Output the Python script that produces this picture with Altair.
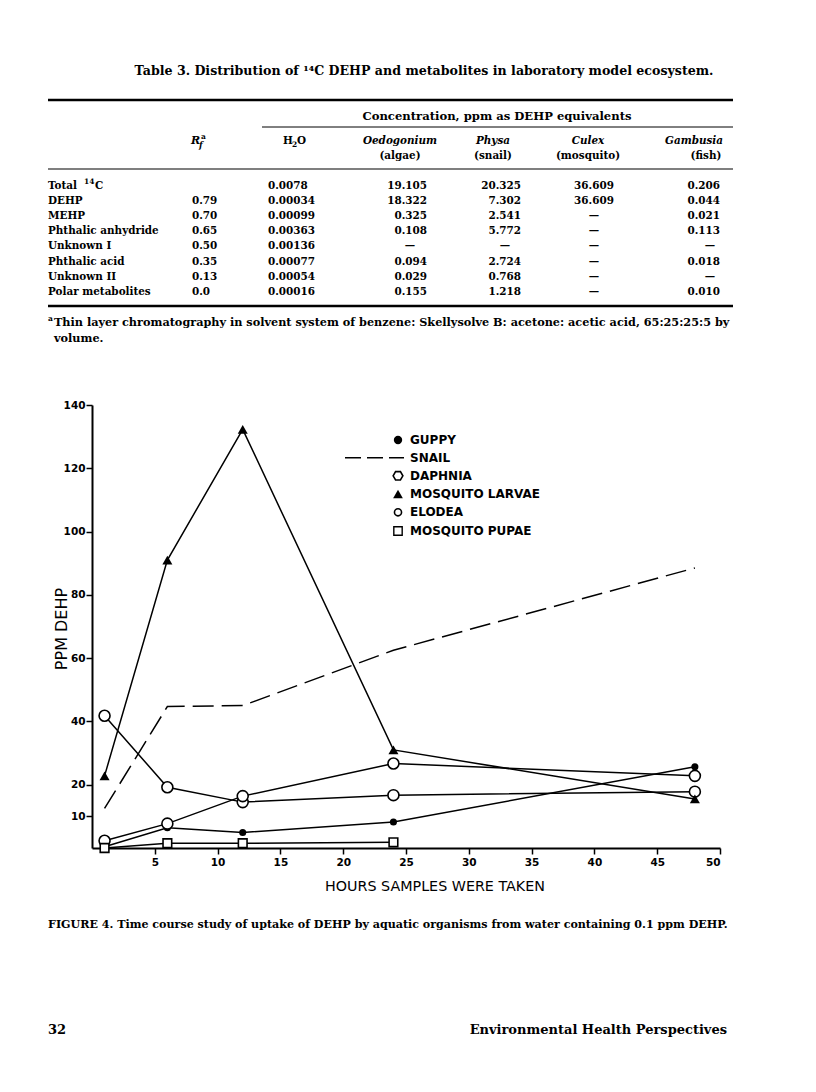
import altair as alt
import pandas as pd

# ---------------- data ----------------
hours = [1, 6, 12, 24, 48]
guppy = [0.4, 6.4, 4.9, 8.2, 25.7]
snail = [12.5, 44.7, 45.0, 62.5, 88.5]
daphnia = [41.8, 19.2, 14.5, 16.7, 17.8]
larvae = [22.8, 91.0, 132.3, 31.0, 15.5]
elodea = [2.3, 7.7, 16.4, 26.7, 22.8]
pupae_hours = [1, 6, 12, 24]
pupae = [0.0, 1.5, 1.5, 1.8]

x_ticks = [5, 10, 15, 20, 25, 30, 35, 40, 45, 50]
y_ticks = [10, 20, 40, 60, 80, 100, 120, 140]

legend_labels = ["GUPPY", "SNAIL", "DAPHNIA", "MOSQUITO LARVAE", "ELODEA", "MOSQUITO PUPAE"]

table_title = "Table 3. Distribution of \u00b9\u2074C DEHP and metabolites in laboratory model ecosystem."
row_labels = ["Total", "DEHP", "MEHP", "Phthalic anhydride", "Unknown I",
              "Phthalic acid", "Unknown II", "Polar metabolites"]
DASH = "\u2014"
rf_col = ["", "0.79", "0.70", "0.65", "0.50", "0.35", "0.13", "0.0"]
h2o_col = ["0.0078", "0.00034", "0.00099", "0.00363", "0.00136", "0.00077", "0.00054", "0.00016"]
algae_col = ["19.105", "18.322", "0.325", "0.108", DASH, "0.094", "0.029", "0.155"]
physa_col = ["20.325", "7.302", "2.541", "5.772", DASH, "2.724", "0.768", "1.218"]
culex_col = ["36.609", "36.609", DASH, DASH, DASH, DASH, DASH, DASH]
fish_col = ["0.206", "0.044", "0.021", "0.113", DASH, "0.018", DASH, "0.010"]

footnote = "Thin layer chromatography in solvent system of benzene: Skellysolve B: acetone: acetic acid, 65:25:25:5 by"
caption = "FIGURE 4. Time course study of uptake of DEHP by aquatic organisms from water containing 0.1 ppm DEHP."

# ---------------- layout ----------------
OX, OY = 92, 405          # page position of plot origin (x=0, y=140)
PW, PH = 628, 443
SERIF = "DejaVu Serif"
SANS = "DejaVu Sans"
TS = 10.4                 # table font size
ROW_Y0, ROW_DY = 185.5, 15.2

def one():
    return pd.DataFrame({"t": [""]})

def txt(s, X, Y, size=TS, font=SERIF, weight="bold", align="left", style="normal", angle=0):
    return alt.Chart(pd.DataFrame({"t": [s]})).mark_text(
        align=align, baseline="middle", font=font, fontSize=size, fontWeight=weight,
        fontStyle=style, angle=angle, color="black"
    ).encode(x=alt.value(X - OX), y=alt.value(Y - OY), text="t:N")

def rule(X1, X2, Y, w=1.0):
    return alt.Chart(one()).mark_rule(color="black", strokeWidth=w).encode(
        x=alt.value(X1 - OX), x2=alt.value(X2 - OX), y=alt.value(Y - OY))

def column(values, X, align, dash_x):
    nums = [(v, ROW_Y0 + i * ROW_DY - OY) for i, v in enumerate(values) if v not in ("", DASH)]
    dashes = [(v, ROW_Y0 + i * ROW_DY - OY) for i, v in enumerate(values) if v == DASH]
    out = []
    if nums:
        out.append(alt.Chart(pd.DataFrame(nums, columns=["t", "py"])).mark_text(
            align=align, baseline="middle", font=SERIF, fontSize=TS, fontWeight="bold", color="black"
        ).encode(x=alt.value(X - OX), y=alt.Y("py:Q", scale=None, axis=None), text="t:N"))
    if dashes:
        out.append(alt.Chart(pd.DataFrame(dashes, columns=["t", "py"])).mark_text(
            align="center", baseline="middle", font=SERIF, fontSize=TS, fontWeight="bold", color="black"
        ).encode(x=alt.value(dash_x - OX), y=alt.Y("py:Q", scale=None, axis=None), text="t:N"))
    return out

# ---------------- plot ----------------
xs = alt.Scale(domain=[0, 50], nice=False, zero=True)
ys = alt.Scale(domain=[0, 140], nice=False, zero=True)
xaxis = alt.Axis(values=x_ticks, title=None, grid=False, domainWidth=2, domainColor="black",
                 tickColor="black", tickWidth=1.5, tickSize=6, labelPadding=3,
                 labelFont=SANS, labelFontSize=10.5, labelFontWeight="bold", labelColor="black")
yaxis = alt.Axis(values=y_ticks, title=None, grid=False, domainWidth=2, domainColor="black",
                 tickColor="black", tickWidth=1.5, tickSize=6, labelPadding=1,
                 labelFont=SANS, labelFontSize=10.5, labelFontWeight="bold", labelColor="black")

def series_df(name, hrs, vals):
    return pd.DataFrame({"series": name, "hour": hrs, "ppm": vals})

df_guppy = series_df("Guppy", hours, guppy)
df_snail = series_df("Snail", hours, snail)
df_daph = series_df("Daphnia", hours, daphnia)
df_larv = series_df("Mosquito larvae", hours, larvae)
df_elod = series_df("Elodea", hours, elodea)
df_pup = series_df("Mosquito pupae", pupae_hours, pupae)
solid = pd.concat([df_guppy, df_daph, df_larv, df_elod, df_pup])

def enc(ch):
    return ch.encode(x=alt.X("hour:Q", scale=xs, axis=xaxis),
                     y=alt.Y("ppm:Q", scale=ys, axis=yaxis))

lines = enc(alt.Chart(solid).mark_line(color="black", strokeWidth=1.5)).encode(detail="series:N")
snail_line = enc(alt.Chart(df_snail).mark_line(color="black", strokeWidth=1.5, strokeDash=[21, 8]))
p_guppy = enc(alt.Chart(df_guppy).mark_point(shape="circle", size=50, filled=True, color="black", opacity=1))
p_daph = enc(alt.Chart(df_daph).mark_point(shape="circle", size=120, filled=True, fill="white",
                                           stroke="black", strokeWidth=1.6, opacity=1))
p_elod = enc(alt.Chart(df_elod).mark_point(shape="circle", size=120, filled=True, fill="white",
                                           stroke="black", strokeWidth=1.6, opacity=1))
p_larv = enc(alt.Chart(df_larv).mark_point(shape="triangle-up", size=100, filled=True, color="black", opacity=1))
p_pup = enc(alt.Chart(df_pup).mark_point(shape="square", size=75, filled=True, fill="white",
                                         stroke="black", strokeWidth=1.6, opacity=1))

layers = [lines, snail_line, p_guppy, p_daph, p_elod, p_larv, p_pup]

# axis titles
layers.append(txt("HOURS SAMPLES WERE TAKEN", 435, 887, size=14.3, font=SANS, weight="normal", align="center"))
layers.append(txt("PPM DEHP", 62, 629, size=16, font=SANS, weight="normal", align="center", angle=270))

# legend
HEX = "M-1,0L-0.5,-0.866L0.5,-0.866L1,0L0.5,0.866L-0.5,0.866Z"
leg_y = [440, 457.7, 475.8, 494, 512.3, 531]
leg_sym = [
    dict(shape="circle", size=70, filled=True, color="black", opacity=1),
    None,
    dict(shape=HEX, size=95, filled=True, fill="white", stroke="black", strokeWidth=1.6, opacity=1),
    dict(shape="triangle-up", size=95, filled=True, color="black", opacity=1),
    dict(shape="circle", size=50, filled=True, fill="white", stroke="black", strokeWidth=1.6, opacity=1),
    dict(shape="square", size=70, filled=True, fill="white", stroke="black", strokeWidth=1.4, opacity=1),
]
for lab, yy, sym in zip(legend_labels, leg_y, leg_sym):
    layers.append(txt(lab, 410, yy, size=12, font=SANS, weight="bold"))
    if sym is None:
        layers.append(alt.Chart(one()).mark_rule(color="black", strokeWidth=1.6, strokeDash=[16, 6]).encode(
            x=alt.value(345 - OX), x2=alt.value(404 - OX), y=alt.value(yy - OY)))
    else:
        layers.append(alt.Chart(one()).mark_point(**sym).encode(x=alt.value(398 - OX), y=alt.value(yy - OY)))

# ---------------- table ----------------
layers.append(txt(table_title, 424, 71, size=12.6, align="center"))
layers.append(rule(48, 733, 100, 2.5))
layers.append(txt("Concentration, ppm as DEHP equivalents", 497, 117, size=11.6, align="center"))
layers.append(rule(262, 733, 127, 1))
layers.append(txt("R", 191, 141, size=11, style="italic"))
layers.append(txt("f", 199, 145, size=8.5, style="italic"))
layers.append(txt("a", 201, 137, size=7.5))
layers.append(txt("H", 283, 141))
layers.append(txt("2", 292, 145, size=7.5))
layers.append(txt("O", 297, 141))
layers.append(txt("Oedogonium", 400, 141, align="center", style="italic"))
layers.append(txt("(algae)", 400, 156, align="center"))
layers.append(txt("Physa", 493, 141, align="center", style="italic"))
layers.append(txt("(snail)", 493, 156, align="center"))
layers.append(txt("Culex", 588, 141, align="center", style="italic"))
layers.append(txt("(mosquito)", 588, 156, align="center"))
layers.append(txt("Gambusia", 723, 141, align="right", style="italic"))
layers.append(txt("(fish)", 706, 156, align="center"))
layers.append(rule(48, 733, 169, 1.2))
layers += column(row_labels, 48, "left", 48)
layers.append(txt("14", 84, ROW_Y0 - 4, size=7.5))
layers.append(txt("C", 95, ROW_Y0))
layers += column(rf_col, 192, "left", 200)
layers += column(h2o_col, 268, "left", 290)
layers += column(algae_col, 427, "right", 410)
layers += column(physa_col, 521, "right", 505)
layers += column(culex_col, 594, "center", 594)
layers += column(fish_col, 720, "right", 710)
layers.append(rule(48, 733, 306, 2.5))
layers.append(txt("a", 48, 319, size=7.5))
layers.append(txt(footnote, 54, 323, size=11.25))
layers.append(txt("volume.", 54, 339, size=11.25))

# caption and footer
layers.append(txt(caption, 48, 925, size=11.1))
layers.append(txt("32", 48, 1030, size=13))
layers.append(txt("Environmental Health Perspectives", 727, 1030, size=13, align="right"))

chart = alt.layer(*layers).properties(
    width=PW, height=PH,
    autosize=alt.AutoSizeParams(type="none"),
    padding={"left": 84, "top": 397, "right": 88, "bottom": 236},
    background="white",
).configure_view(stroke=None)

chart.save("out.html", embed_options={"renderer": "svg", "actions": False})
